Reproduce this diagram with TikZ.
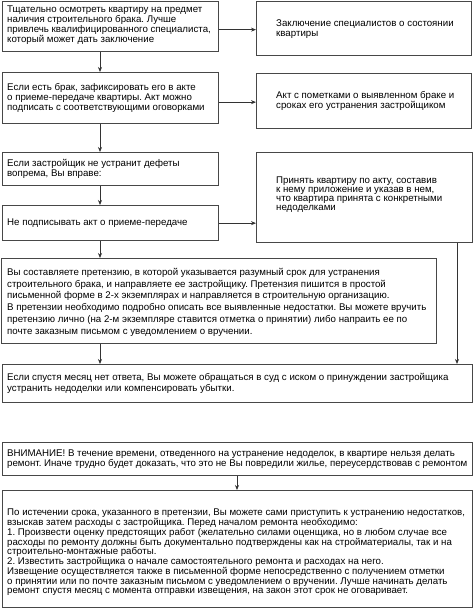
\documentclass[tikz,border=0pt]{standalone}
\usepackage{fontspec}
\setmainfont{Liberation Sans}
\usetikzlibrary{arrows.meta}
\frenchspacing
\tikzset{
  frame/.style={draw=black!72, line width=1.3pt, anchor=north west, inner sep=0pt},
  txt/.style={anchor=west, align=left, inner sep=0pt, font=\fontsize{9.7}{10}\selectfont},
  arr/.style={draw=black!80, line width=0.8pt, -{Stealth[length=5pt,width=4pt]}}
}
\begin{document}
\begin{tikzpicture}[x=1pt,y=-1pt]
\useasboundingbox (0,0) rectangle (474,610);
\coordinate (ax) at (100,0);
\coordinate (bx) at (457,0);
\coordinate (cx) at (237,0);
% frames
\node[frame, minimum width=216pt, minimum height=50pt] (b1) at (2,1) {};
\node[frame, minimum width=215pt, minimum height=54pt] (r1) at (256,1) {};
\node[frame, minimum width=216pt, minimum height=51pt] (b2) at (2,72) {};
\node[frame, minimum width=215pt, minimum height=55pt] (r2) at (256,73) {};
\node[frame, minimum width=216pt, minimum height=33pt] (b3) at (2,152) {};
\node[frame, minimum width=216pt, minimum height=35pt] (b4) at (2,205) {};
\node[frame, minimum width=216pt, minimum height=90pt] (r3) at (256,152) {};
\node[frame, minimum width=435pt, minimum height=85pt] (b5) at (1,258) {};
\node[frame, minimum width=470pt, minimum height=38pt] (b6) at (2,364) {};
\node[frame, minimum width=470pt, minimum height=33pt] (b7) at (2,442) {};
\node[frame, minimum width=470pt, minimum height=117pt] (b8) at (2,490) {};
% texts
\node[txt] (t1) at ([xshift=5pt,yshift=1pt]b1.west)
 {Тщательно осмотреть квартиру на предмет\\наличия строительного брака. Лучше\\привлечь квалифицированного специалиста,\\который может дать заключение};
\node[txt] (tr1) at ([xshift=20pt]r1.west)
 {Заключение специалистов о состоянии\\квартиры};
\node[txt] (t2) at ([xshift=5pt]b2.west)
 {Если есть брак, зафиксировать его в акте\\о приеме-передаче квартиры. Акт можно\\подписать с соответствующими оговорками};
\node[txt] (tr2) at ([xshift=20pt]r2.west)
 {Акт с пометками о выявленном браке и\\сроках его устранения застройщиком};
\node[txt] (t3) at ([xshift=5pt]b3.west)
 {Если застройщик не устранит дефеты\\вопрема, Вы вправе:};
\node[txt] (t4) at ([xshift=5pt]b4.west)
 {Не подписывать акт о приеме-передаче};
\node[txt, font=\fontsize{9.7}{9}\selectfont] (tr3) at ([xshift=20pt,yshift=3pt]r3.west)
 {Принять квартиру по акту, составив\\к нему приложение и указав в нем,\\что квартира принята с конкретными\\недоделками};
\node[txt, font=\fontsize{9.7}{11.8}\selectfont] (t5) at ([xshift=6pt,yshift=-1pt]b5.west)
 {Вы составляете претензию, в которой указывается разумный срок для устранения\\строительного брака, и направляете ее застройщику. Претензия пишится в простой\\письменной форме в 2-х экземплярах и направляется в строительную организацию.\\В претензии необходимо подробно описать все выявленные недостатки. Вы можете вручить\\претензию лично (на 2-м экземпляре ставится отметка о принятии) либо напраить ее по\\почте заказным письмом с уведомлением о вручении.};
\node[txt, font=\fontsize{9.7}{11.3}\selectfont] (t6) at ([xshift=5pt]b6.west)
 {Если спустя месяц нет ответа, Вы можете обращаться в суд с иском о принуждении застройщика\\устранить недоделки или компенсировать убытки.};
\node[txt] (t7) at ([xshift=5pt]b7.west)
 {ВНИМАНИЕ! В течение времени, отведенного на устранение недоделок, в квартире нельзя делать\\ремонт. Иначе трудно будет доказать, что это не Вы повредили жилье, переусердствовав с ремонтом};
\node[txt, font=\fontsize{9.7}{9.2}\selectfont] (t8) at ([xshift=5pt,yshift=-3pt]b8.west)
 {По истечении срока, указанного в претензии, Вы можете сами приступить к устранению недостатков,\\взыскав затем расходы с застройщика. Перед началом ремонта необходимо:\\1. Произвести оценку предстоящих работ (желательно силами оценщика, но в любом случае все\\расходы по ремонту должны быть документально подтверждены как на стройматериалы, так и на\\строительно-монтажные работы.\\2. Известить застройщика о начале самостоятельного ремонта и расходах на него.\\Извещение осуществляется также в письменной форме непосредственно с получением отметки\\о принятии или по почте заказным письмом с уведомлением о вручении. Лучше начинать делать\\ремонт спустя месяц с момента отправки извещения, на закон этот срок не оговаривает.};
% connectors
\draw[arr] ([yshift=-3pt]b1.east) -- ([yshift=-3pt]b1.east -| r1.west);
\draw[arr] ([yshift=-4pt]b2.east) -- ([yshift=-4pt]b2.east -| r2.west);
\draw[arr] (b4.east) -- (b4.east -| r3.west);
\draw[arr] (b1.south -| ax) -- (b2.north -| ax);
\draw[arr] (b2.south -| ax) -- (b3.north -| ax);
\draw[arr] (b3.south -| ax) -- (b4.north -| ax);
\draw[arr] (b4.south -| ax) -- (b5.north -| ax);
\draw[arr] (b5.south -| ax) -- (b6.north -| ax);
\draw[arr] (r3.south -| bx) -- (b6.north -| bx);
\draw[arr] (b7.south -| cx) -- (b8.north -| cx);
\end{tikzpicture}
\end{document}
